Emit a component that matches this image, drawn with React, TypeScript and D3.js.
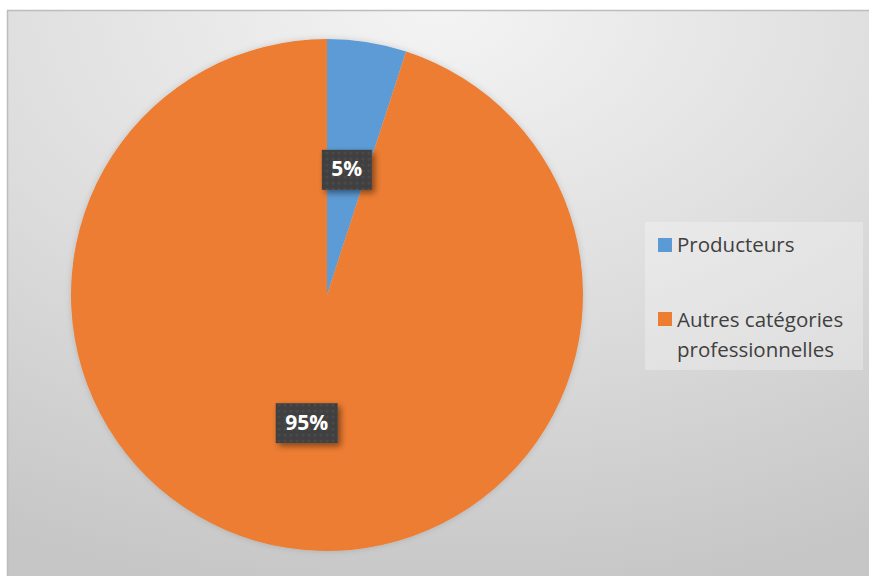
import React from "react";
import * as d3 from "d3";

const categories = ["Producteurs", "Autres catégories professionnelles"];
const values = [5, 95];
const labels = ["5%", "95%"];
const colors = ["#5B9BD5", "#ED7D31"];

export default function App() {
  const W = 869, H = 576;
  const cx = 327, cy = 295, r = 256;
  const pie = d3.pie<number>().value((d) => d).sort(null);
  const arcs = pie(values);
  const arcGen = d3.arc<d3.PieArcDatum<number>>().innerRadius(0).outerRadius(r);
  const factors = [0.495, 0.507];
  const centroids = arcs.map((a, i) => {
    const ang = (a.startAngle + a.endAngle) / 2;
    const rr = r * factors[i];
    return [cx + Math.sin(ang) * rr, cy - Math.cos(ang) * rr];
  });
  const boxW = [50, 62];
  return (
    <svg width={W} height={H} style={{ display: "block", position: "absolute", left: 0, top: 0 }}>
      <defs>
        <radialGradient id="bg" cx="0.5" cy="0" r="1.05" fx="0.5" fy="0" gradientUnits="objectBoundingBox">
          <stop offset="0" stopColor="#f4f4f4" />
          <stop offset="0.55" stopColor="#dcdcdc" />
          <stop offset="1" stopColor="#c6c6c6" />
        </radialGradient>
        <filter id="sh" x="-20%" y="-20%" width="150%" height="150%">
          <feDropShadow dx="3" dy="3" stdDeviation="3" floodColor="#000" floodOpacity="0.45" />
        </filter>
        <filter id="psh" x="-10%" y="-10%" width="120%" height="120%">
          <feDropShadow dx="0" dy="0" stdDeviation="3" floodColor="#000" floodOpacity="0.15" />
        </filter>
        <pattern id="dots" width="6" height="6" patternUnits="userSpaceOnUse">
          <rect width="6" height="6" fill="#404040" />
          <circle cx="3" cy="3" r="1.6" fill="#4a4a4a" />
        </pattern>
      </defs>
      <rect x={7} y={10} width={W - 7} height={H - 10} fill="url(#bg)" />
      <line x1={7} y1={10.5} x2={W} y2={10.5} stroke="#bdbdbd" strokeWidth={1.5} />
      <line x1={7.5} y1={10} x2={7.5} y2={H} stroke="#bdbdbd" strokeWidth={1.5} />
      <g transform={`translate(${cx},${cy})`} filter="url(#psh)">
        {arcs.map((a, i) => (
          <path key={i} d={arcGen(a) || ""} fill={colors[i]} />
        ))}
      </g>
      {arcs.map((a, i) => {
        const [x, y] = centroids[i];
        const w = boxW[i], h = 40;
        return (
          <g key={"l" + i}>
            <rect x={x - w / 2} y={y - h / 2} width={w} height={h} fill="url(#dots)" filter="url(#sh)" />
            <text x={x} y={y + 1} textAnchor="middle" dominantBaseline="middle" fill="#ffffff"
              fontFamily="'Open Sans', sans-serif" fontWeight={700} fontSize={21}>
              {labels[i]}
            </text>
          </g>
        );
      })}
      <rect x={645} y={222} width={218} height={148} fill="#ffffff" fillOpacity={0.28} />
      <rect x={658} y={238} width={14} height={14} fill={colors[0]} />
      <text x={677} y={252} fill="#404040" fontFamily="'Open Sans', sans-serif" fontSize={20.5}>{categories[0]}</text>
      <rect x={658} y={312} width={14} height={14} fill={colors[1]} />
      <text fill="#404040" fontFamily="'Open Sans', sans-serif" fontSize={20.5}>
        <tspan x={677} y={327}>Autres catégories</tspan>
        <tspan x={677} y={357}>professionnelles</tspan>
      </text>
    </svg>
  );
}
